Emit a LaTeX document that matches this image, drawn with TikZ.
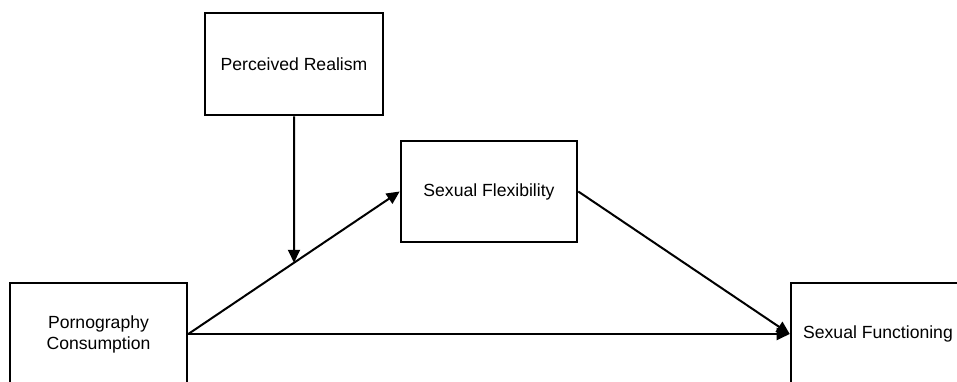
\documentclass[tikz,border=0pt]{standalone}
\usepackage{fontspec}
\setmainfont{Liberation Sans}
\usetikzlibrary{arrows.meta,calc}
\begin{document}
\begin{tikzpicture}[x=1pt,y=1pt,
  box/.style={draw,line width=2.6pt,inner sep=0pt,align=center,
    font=\fontsize{17.6}{21}\selectfont},
  arr/.style={line width=2pt,-{Triangle[length=13pt,width=12pt]}}]
\useasboundingbox (0,0) rectangle (957,381);
\clip (0,0) rectangle (957,381);
\node[box,minimum width=178pt,minimum height=102pt] (pr) at (294,317) {Perceived Realism};
\node[box,minimum width=176pt,minimum height=101pt] (sf) at (489,189.5) {Sexual Flexibility};
\node[box,minimum width=177pt,minimum height=102pt] (pc) at (98.5,47) {Pornography\\Consumption};
\node[box,minimum width=174pt,minimum height=102pt] (sfn) at (878,47) {Sexual Functioning};
\coordinate (m) at ($(pc.east)!0.5!(sf.west)$);
\draw[arr] (pc.east) -- (sf.west);
\draw[arr] (pr.south) -- (m);
\draw[arr] (sf.east) -- (sfn.west);
\draw[arr] (pc.east) -- (sfn.west);
\end{tikzpicture}
\end{document}
